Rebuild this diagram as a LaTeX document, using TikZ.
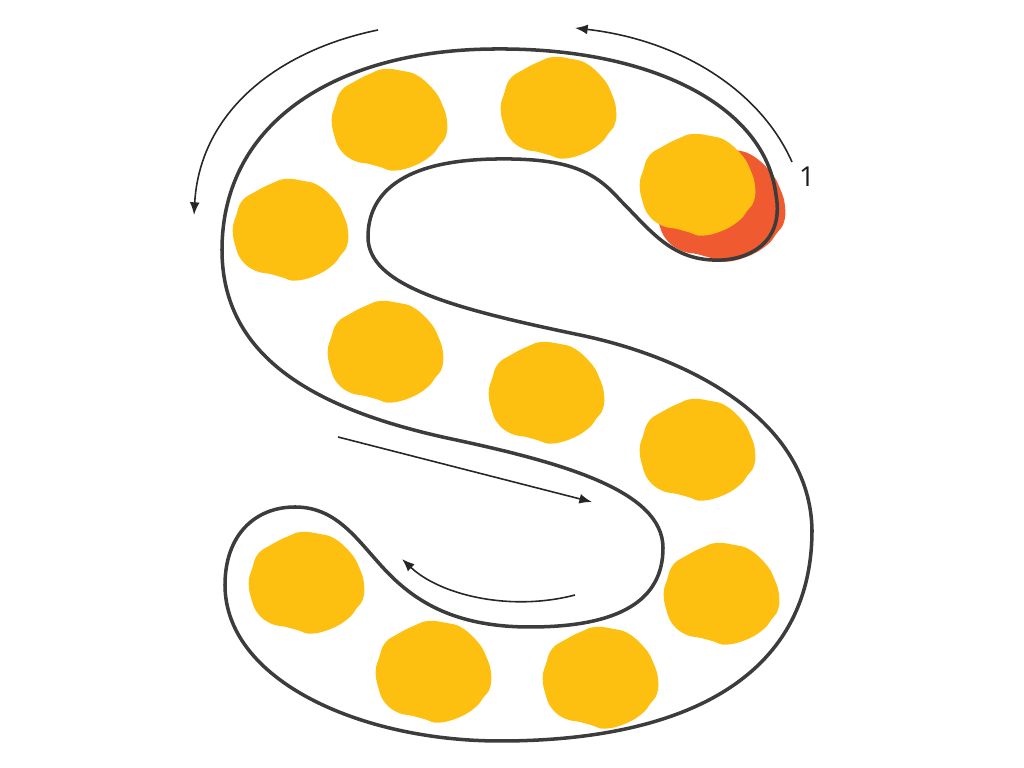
\documentclass[tikz,border=0pt]{standalone}
\usepackage{fontspec}
\setsansfont{Open Sans}
\usetikzlibrary{arrows.meta}

\definecolor{dotyellow}{HTML}{FDC010}
\definecolor{dotred}{HTML}{F05A30}
\definecolor{trackgray}{HTML}{3C3C3C}

\tikzset{
  pics/blob/.style={code={
    \fill[#1] plot[smooth cycle, tension=0.75] coordinates {
      (-4.7,-51) (12,-49.3) (28.7,-44.3) (45.3,-29.3) (53.7,-14.3) (58,0.7)
      (57,15.7) (50.3,25.7) (42,35.7) (25.3,45.7) (5.3,50.7) (-8,47.3)
      (-19.7,44) (-34.7,40.7) (-48,30.7) (-54.7,15.7) (-57.3,-0.7) (-54,-14)
      (-48,-29) (-34.7,-38.3) (-18,-46.7)};
  }},
  track/.style={draw=trackgray, line width=1pt},
  guide/.style={draw=black!85, line width=0.45pt, -{Latex[length=3.6pt, width=2.8pt]}}
}

\begin{document}
\begin{tikzpicture}[x=0.01cm, y=-0.01cm]
  \useasboundingbox (0,0) rectangle (1024,768);

  % starting dot (red, behind the first yellow one)
  \pic[scale=1.12] at (720,205) {blob=dotred};

  % yellow dots along the letter
  \foreach \cx/\cy in {389/120, 558/108, 697/185, 290/230, 385/352, 546/393,
                       697/450, 306/583, 721/594, 433/672, 600/678} {
    \pic at (\cx,\cy) {blob=dotyellow};
  }

  % outline of the letter S
  \draw[track] (497,49)
    .. controls (650,48) and (765,105) .. (776,195)
    .. controls (785,245) and (745,262) .. (712,260)
    .. controls (670,258) and (650,230) .. (620,200)
    .. controls (595,172) and (570,158) .. (497,159)
    .. controls (400,160) and (368,195) .. (368,237)
    .. controls (368,285) and (450,308) .. (580,335)
    .. controls (690,358) and (810,420) .. (812,530)
    .. controls (812,680) and (680,741) .. (500,741)
    .. controls (360,741) and (225,680) .. (225,585)
    .. controls (225,535) and (255,507) .. (295,507)
    .. controls (340,507) and (360,545) .. (390,575)
    .. controls (420,605) and (460,627) .. (530,627)
    .. controls (620,627) and (663,600) .. (663,548)
    .. controls (663,490) and (560,462) .. (447,438)
    .. controls (320,410) and (222,360) .. (222,250)
    .. controls (222,120) and (340,49) .. cycle;

  % direction arrows
  \coordinate (a1s) at (378,30);   \coordinate (a1e) at (194,215);
  \coordinate (a2s) at (792,162);  \coordinate (a2e) at (575,28);
  \coordinate (a3s) at (338,437);  \coordinate (a3e) at (592,502);
  \coordinate (a4s) at (575,595);  \coordinate (a4e) at (402,559);

  \draw[guide] (a1s) .. controls (280,50) and (200,110) .. (a1e);
  \draw[guide] (a2s) .. controls (760,90) and (680,40) .. (a2e);
  \draw[guide] (a3s) -- (a3e);
  \draw[guide] (a4s) .. controls (510,612) and (440,595) .. (a4e);

  % start label
  \node[font=\sffamily\fontsize{7.8}{9}\selectfont, text=black!90] (one) at (807,177) {1};
\end{tikzpicture}
\end{document}
